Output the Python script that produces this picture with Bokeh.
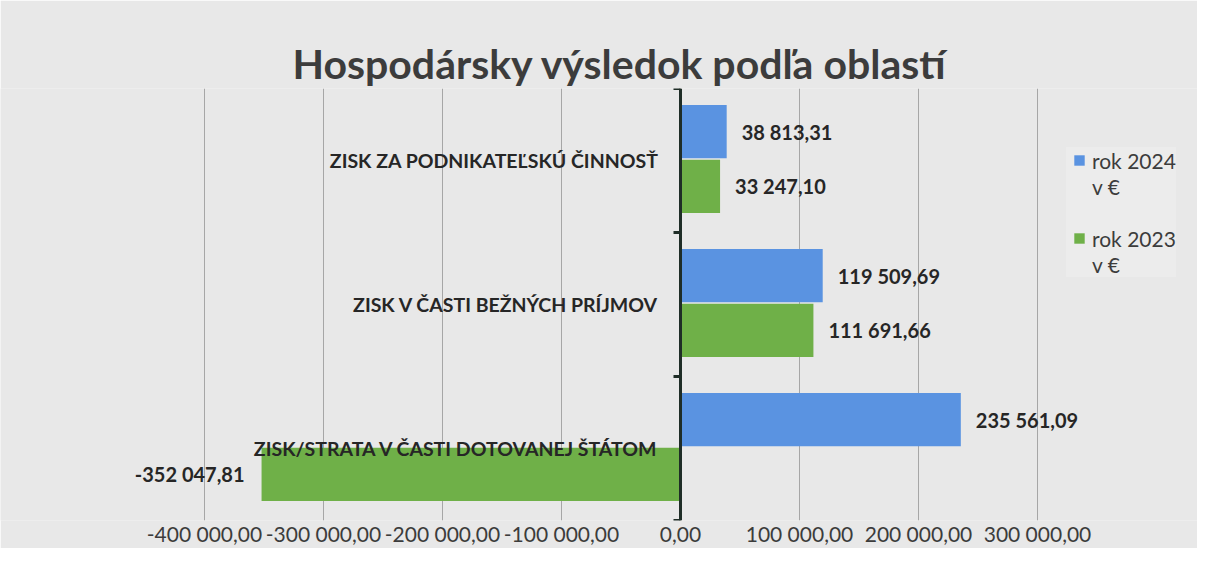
from bokeh.plotting import figure
from bokeh.models import (FactorRange, Range1d, FixedTicker, Span, Legend,
                          LegendItem, ColumnDataSource)
from bokeh.transform import dodge
from bokeh.core.properties import value, field
from bokeh.embed import file_html
from bokeh.resources import INLINE

# ---------------- data ----------------
title_text = "Hospodársky výsledok podľa oblastí"
categories = ["ZISK ZA PODNIKATEĽSKÚ ČINNOSŤ",
              "ZISK V ČASTI BEŽNÝCH PRÍJMOV",
              "ZISK/STRATA V ČASTI DOTOVANEJ ŠTÁTOM"]
values_2024 = [38813.31, 119509.69, 235561.09]
values_2023 = [33247.10, 111691.66, -352047.81]
series_names = ["rok 2024", "rok 2023"]
currency_line = "v €"
tick_values = [-400000, -300000, -200000, -100000, 0, 100000, 200000, 300000]
tick_labels = ["-400 000,00", "-300 000,00", "-200 000,00", "-100 000,00",
               "0,00", "100 000,00", "200 000,00", "300 000,00"]

# ---------------- style / layout ----------------
BG = "#e8e8e8"
BLUE = "#5a93e1"
GREEN = "#6fb048"
DARK = "#262626"
GREY_TEXT = "#3c3c3c"
AXIS_COL = "#1f2d27"
FONT = "Lato"

FIG_W = 1197
BT, FRAME_H, BB = 88, 432, 26
AXIS_LEFT_PX, AXIS_RIGHT_PX = 204, 1037          # where first / last tick fall
per_px = (tick_values[-1] - tick_values[0]) / (AXIS_RIGHT_PX - AXIS_LEFT_PX)
x_start = tick_values[0] - AXIS_LEFT_PX * per_px
x_end = tick_values[0] + (FIG_W - AXIS_LEFT_PX) * per_px


def fmt(v):
    s = f"{abs(v):,.2f}".replace(",", " ").replace(".", ",")
    return ("-" if v < 0 else "") + s


p = figure(y_range=FactorRange(factors=list(reversed(categories)), range_padding=0),
           x_range=Range1d(x_start, x_end),
           frame_width=FIG_W, frame_height=FRAME_H,
           min_border_left=0, min_border_right=0,
           min_border_top=BT, min_border_bottom=BB,
           output_backend="svg", toolbar_location=None, title=title_text)

p.background_fill_color = BG
p.border_fill_color = BG
p.outline_line_color = None

p.title.text_font = FONT
p.title.text_font_size = "41px"
p.title.text_font_style = "bold"
p.title.text_color = GREY_TEXT
p.title.align = "left"
p.title.offset = 292
p.title.standoff = 1

p.yaxis.visible = False
p.ygrid.visible = False
p.xgrid.grid_line_color = "#a6a6a6"
p.xgrid.grid_line_width = 1

p.xaxis.ticker = FixedTicker(ticks=tick_values)
p.xaxis.major_label_overrides = {v: l for v, l in zip(tick_values, tick_labels)}
p.xaxis.axis_line_color = None
p.xaxis.major_tick_line_color = None
p.xaxis.minor_tick_line_color = None
p.xaxis.major_tick_out = 0
p.xaxis.major_tick_in = 0
p.xaxis.minor_tick_out = 0
p.xaxis.major_label_text_font = FONT
p.xaxis.major_label_text_font_size = "21px"
p.xaxis.major_label_text_color = GREY_TEXT
p.xaxis.major_label_standoff = 0

# ---------------- bars ----------------
def label_cols(vals):
    return dict(lab=[fmt(v) for v in vals],
                xo=[15 if v >= 0 else -17 for v in vals],
                al=["left" if v >= 0 else "right" for v in vals])

src24 = ColumnDataSource(dict(cat=categories, v=values_2024, **label_cols(values_2024)))
src23 = ColumnDataSource(dict(cat=categories, v=values_2023, **label_cols(values_2023)))

OFF24, OFF23, BAR_H = 0.2, -0.18, 0.37
p.hbar(y=dodge("cat", OFF24, range=p.y_range), left=0, right="v", height=BAR_H,
       fill_color=BLUE, line_color=None, source=src24)
p.hbar(y=dodge("cat", OFF23, range=p.y_range), left=0, right="v", height=BAR_H,
       fill_color=GREEN, line_color=None, source=src23)

for src, off in ((src24, OFF24), (src23, OFF23)):
    p.text(x="v", y=dodge("cat", off, range=p.y_range), text="lab", source=src,
           x_offset=field("xo"), text_align=field("al"), text_baseline="middle",
           text_font=value(FONT), text_font_style="bold", text_font_size="20px",
           text_color=DARK)

# category labels next to the value axis
p.text(x=[0] * len(categories), y=categories, text=categories,
       x_offset=-22, text_align="right", text_baseline="middle",
       text_font=value(FONT), text_font_style="bold", text_font_size="19.5px",
       text_color=DARK)

# vertical axis line at zero with bracket ticks at category boundaries
p.add_layout(Span(location=0, dimension="height", line_color=AXIS_COL, line_width=3))
tick_len = 7 * per_px
bounds = [[categories[0], 0.5]] + [[c, -0.5] for c in categories]
tsrc = ColumnDataSource(dict(x0=[-tick_len] * len(bounds), x1=[0] * len(bounds), y=bounds))
p.segment(x0="x0", x1="x1", y0="y", y1="y", source=tsrc,
          line_color=AXIS_COL, line_width=3)

# ---------------- legend ----------------
# hidden square-marker proxies (same data as the bars) used only for legend swatches
sq24 = p.scatter(x="v", y="cat", source=src24, marker="square", size=10,
                 fill_color=BLUE, line_color=None, visible=False)
sq23 = p.scatter(x="v", y="cat", source=src23, marker="square", size=10,
                 fill_color=GREEN, line_color=None, visible=False)
blank = p.scatter(x="v", y="cat", source=src24, marker="square", size=10,
                  fill_alpha=0, line_alpha=0, visible=False)

GLYPH = 26
PAD = 8
leg_left = 1080 - GLYPH / 2 - PAD + 7
leg_top = 161 - GLYPH / 2 - PAD - 9
leg_h = 5 * GLYPH + 2 * PAD
legend = Legend(items=[LegendItem(label=series_names[0], renderers=[sq24]),
                       LegendItem(label=currency_line, renderers=[blank]),
                       LegendItem(label=" ", renderers=[blank]),
                       LegendItem(label=series_names[1], renderers=[sq23]),
                       LegendItem(label=currency_line, renderers=[blank])],
                location=(leg_left, BT + FRAME_H - (leg_top + leg_h)),
                orientation="vertical",
                glyph_width=GLYPH, glyph_height=GLYPH, label_height=GLYPH,
                label_standoff=0, spacing=0, padding=PAD, margin=0,
                label_text_font=FONT, label_text_font_size="21px",
                label_text_color=GREY_TEXT,
                inactive_fill_alpha=0.0,
                border_line_color=None, background_fill_color="#ececec",
                background_fill_alpha=1.0)
p.add_layout(legend)

open("out.html", "w").write(file_html(p, INLINE))
